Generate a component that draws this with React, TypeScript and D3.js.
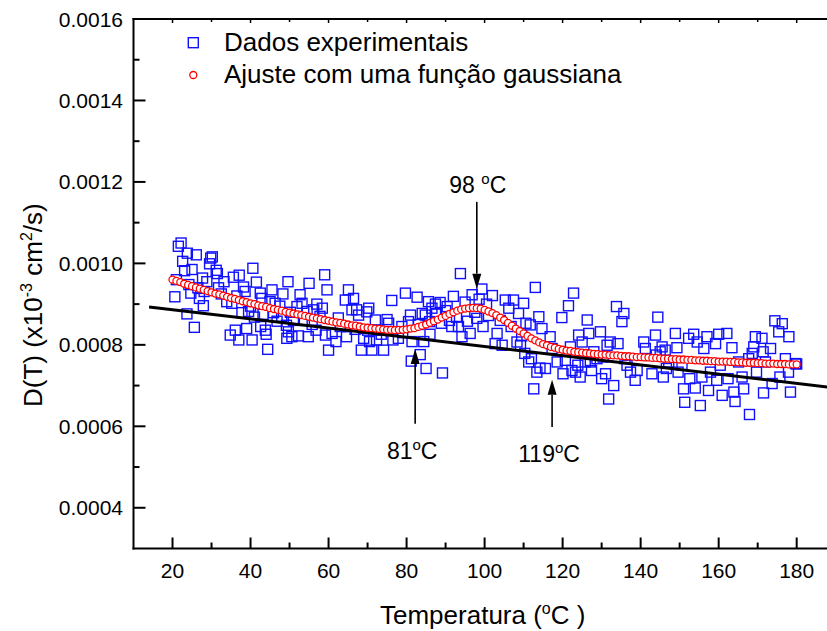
import React from "react";
import * as d3 from "d3";

// ---------- data ----------
const fitT = [
  20, 21, 22, 23, 24, 25, 26, 27, 28, 29, 30, 31, 32, 33, 34, 35, 36, 37, 38, 39,
  40, 41, 42, 43, 44, 45, 46, 47, 48, 49, 50, 51, 52, 53, 54, 55, 56, 57, 58, 59,
  60, 61, 62, 63, 64, 65, 66, 67, 68, 69, 70, 71, 72, 73, 74, 75, 76, 77, 78, 79,
  80, 81, 82, 83, 84, 85, 86, 87, 88, 89, 90, 91, 92, 93, 94, 95, 96, 97, 98, 99,
  100, 101, 102, 103, 104, 105, 106, 107, 108, 109, 110, 111, 112, 113, 114, 115, 116, 117, 118, 119,
  120, 121, 122, 123, 124, 125, 126, 127, 128, 129, 130, 131, 132, 133, 134, 135, 136, 137, 138, 139,
  140, 141, 142, 143, 144, 145, 146, 147, 148, 149, 150, 151, 152, 153, 154, 155, 156, 157, 158, 159,
  160, 161, 162, 163, 164, 165, 166, 167, 168, 169, 170, 171, 172, 173, 174, 175, 176, 177, 178, 179,
  180,
];
const fitD = [
  960e-6, 957e-6, 954e-6, 950e-6, 947e-6, 944e-6, 941e-6, 938e-6, 935e-6, 932e-6,
  929e-6, 926e-6, 924e-6, 921e-6, 918e-6, 915e-6, 913e-6, 910e-6, 907e-6, 905e-6,
  902e-6, 900e-6, 897e-6, 895e-6, 893e-6, 890e-6, 888e-6, 886e-6, 884e-6, 881e-6,
  879e-6, 877e-6, 875e-6, 873e-6, 871e-6, 869e-6, 867e-6, 865e-6, 863e-6, 861e-6,
  859e-6, 857e-6, 855e-6, 854e-6, 852e-6, 850e-6, 848e-6, 847e-6, 845e-6, 843e-6,
  842e-6, 841e-6, 840e-6, 839e-6, 838e-6, 837e-6, 837e-6, 836e-6, 837e-6, 837e-6,
  838e-6, 840e-6, 841e-6, 844e-6, 847e-6, 850e-6, 854e-6, 858e-6, 862e-6, 867e-6,
  871e-6, 876e-6, 880e-6, 884e-6, 887e-6, 889e-6, 890e-6, 891e-6, 890e-6, 889e-6,
  886e-6, 882e-6, 878e-6, 873e-6, 867e-6, 861e-6, 854e-6, 847e-6, 840e-6, 834e-6,
  828e-6, 822e-6, 816e-6, 811e-6, 806e-6, 802e-6, 799e-6, 795e-6, 793e-6, 790e-6,
  788e-6, 786e-6, 785e-6, 783e-6, 782e-6, 781e-6, 780e-6, 779e-6, 778e-6, 777e-6,
  776e-6, 776e-6, 775e-6, 774e-6, 774e-6, 773e-6, 772e-6, 772e-6, 771e-6, 770e-6,
  770e-6, 769e-6, 769e-6, 768e-6, 768e-6, 767e-6, 766e-6, 766e-6, 765e-6, 765e-6,
  764e-6, 764e-6, 763e-6, 763e-6, 762e-6, 762e-6, 761e-6, 761e-6, 760e-6, 760e-6,
  759e-6, 759e-6, 759e-6, 758e-6, 758e-6, 757e-6, 757e-6, 756e-6, 756e-6, 756e-6,
  755e-6, 755e-6, 754e-6, 754e-6, 754e-6, 753e-6, 753e-6, 753e-6, 752e-6, 752e-6,
  752e-6,
];

const scatterT = [
  20.6, 21.0, 21.5, 22.2, 22.6, 23.1, 23.7, 23.8, 24.2, 24.7, 25.0, 25.6, 26.1, 26.5, 26.9, 27.7, 27.9, 28.1, 28.8, 29.5,
  29.8, 30.2, 31.2, 31.5, 31.8, 32.5, 33.2, 33.9, 34.8, 35.2, 35.6, 36.1, 36.5, 37.0, 37.1, 37.8, 38.2, 38.6, 39.0, 39.5,
  40.0, 40.4, 40.6, 41.0, 41.5, 42.5, 42.6, 42.9, 43.2, 43.8, 44.0, 44.4, 45.0, 45.5, 45.9, 46.3, 46.8, 47.5, 48.0, 48.3,
  49.2, 49.3, 49.6, 49.7, 50.2, 50.6, 51.0, 51.9, 52.3, 52.7, 53.2, 53.8, 54.5, 54.8, 55.0, 55.8, 56.2, 56.8, 57.0, 57.8,
  58.4, 59.0, 59.2, 59.6, 60.0,
  60.9, 61.9, 63.0, 64.3, 64.6, 65.1, 66.0, 66.4, 67.2, 67.7, 68.4, 69.0, 69.8, 70.3, 70.5, 70.0, 71.1, 72.0, 72.3, 72.8,
  74.1, 75.4, 76.2, 76.5, 77.9, 78.8, 79.7, 80.5, 81.0, 81.2, 81.4, 82.7, 83.5, 84.0, 84.4, 84.8, 85.0, 85.6, 85.9, 86.5,
  87.4, 87.7, 88.6, 88.9, 89.2, 90.4, 91.0, 91.6, 92.0, 93.3, 93.8, 94.2, 95.0, 96.3, 96.8, 97.5, 98.0, 99.3, 99.6, 100.5,
  101.0, 62.5, 66.8, 73.5, 75.0, 79.0, 83.0, 86.0, 90.0, 92.8, 95.6, 98.6,
  102.0, 102.7, 103.2, 104.0, 104.5, 105.3, 106.2, 106.8, 107.4, 108.3, 108.7, 109.2, 109.5, 110.0, 110.3, 110.6, 111.3, 111.7, 112.0, 112.6,
  113.0, 113.4, 113.9, 114.2, 114.7, 115.6, 116.8, 117.3, 118.6, 119.8, 120.1, 120.7, 121.5, 122.0, 122.4, 122.8, 123.3, 123.9, 124.1, 124.5,
  125.0, 125.8, 126.3, 126.7, 127.1, 127.4, 128.0, 128.8, 129.7, 130.0, 130.4, 131.4, 131.0, 131.8, 132.2, 133.1, 133.8, 134.2, 135.2, 135.7,
  136.0, 136.5, 137.4, 138.6, 139.1, 140.8, 141.2, 142.9, 143.8, 144.4,
  144.0, 145.0, 145.5, 145.8, 146.3, 146.6, 147.2, 148.9, 149.3, 149.6, 150.6, 151.0, 151.3, 152.3, 152.6, 153.6, 154.0, 154.5, 155.3, 155.7,
  156.2, 157.0, 157.4, 157.9, 159.2, 159.5, 160.0, 160.4, 160.9, 162.1, 162.4, 163.4, 163.9, 164.2, 165.1, 166.0, 166.4, 167.7, 167.9, 168.6,
  169.0, 169.4, 169.7, 171.1, 171.4, 171.5, 172.0, 173.3, 173.7, 174.4, 175.4, 175.7, 176.3, 177.1, 177.9, 178.0, 178.4, 179.7, 180.0,
];
const scatterD = [
  918e-6, 960e-6, 1042e-6, 1050e-6, 1005e-6, 982e-6, 876e-6, 1025e-6, 948e-6, 927e-6, 985e-6, 843e-6, 1021e-6, 940e-6, 914e-6, 964e-6, 896e-6, 931e-6, 955e-6, 999e-6,
  1013e-6, 1016e-6, 983e-6, 975e-6, 940e-6, 925e-6, 955e-6, 906e-6, 824e-6, 902e-6, 966e-6, 836e-6, 920e-6, 812e-6, 971e-6, 879e-6, 942e-6, 931e-6, 840e-6, 882e-6,
  895e-6, 812e-6, 988e-6, 868e-6, 954e-6, 927e-6, 845e-6, 914e-6, 875e-6, 836e-6, 826e-6, 789e-6, 906e-6, 935e-6, 879e-6, 902e-6, 858e-6, 895e-6, 870e-6, 925e-6,
  848e-6, 816e-6, 955e-6, 832e-6, 880e-6, 820e-6, 860e-6, 894e-6, 822e-6, 923e-6, 902e-6, 860e-6, 882e-6, 820e-6, 951e-6, 850e-6, 886e-6, 836e-6, 900e-6, 870e-6,
  890e-6, 972e-6, 824e-6, 935e-6, 787e-6,
  828e-6, 808e-6, 845e-6, 910e-6, 820e-6, 935e-6, 886e-6, 914e-6, 886e-6, 873e-6, 787e-6, 816e-6, 881e-6, 890e-6, 808e-6, 836e-6, 787e-6, 861e-6, 812e-6, 836e-6,
  787e-6, 853e-6, 909e-6, 812e-6, 816e-6, 845e-6, 927e-6, 857e-6, 873e-6, 760e-6, 808e-6, 917e-6, 776e-6, 877e-6, 808e-6, 873e-6, 742e-6, 906e-6, 857e-6, 890e-6,
  900e-6, 877e-6, 904e-6, 853e-6, 731e-6, 894e-6, 860e-6, 845e-6, 919e-6, 845e-6, 975e-6, 820e-6, 905e-6, 828e-6, 923e-6, 880e-6, 865e-6, 937e-6, 845e-6, 900e-6,
  872e-6, 866e-6, 838e-6, 826e-6, 862e-6, 830e-6, 850e-6, 826e-6, 884e-6, 868e-6, 858e-6, 912e-6,
  921e-6, 803e-6, 828e-6, 860e-6, 799e-6, 910e-6, 890e-6, 845e-6, 910e-6, 807e-6, 877e-6, 799e-6, 822e-6, 902e-6, 779e-6, 853e-6, 758e-6, 849e-6, 766e-6, 692e-6,
  941e-6, 733e-6, 869e-6, 743e-6, 840e-6, 742e-6, 820e-6, 791e-6, 758e-6, 867e-6, 729e-6, 762e-6, 896e-6, 795e-6, 737e-6, 927e-6, 733e-6, 750e-6, 824e-6, 721e-6,
  807e-6, 758e-6, 861e-6, 828e-6, 758e-6, 737e-6, 783e-6, 766e-6, 832e-6, 717e-6, 770e-6, 799e-6, 729e-6, 667e-6, 807e-6, 700e-6, 894e-6, 803e-6, 857e-6, 877e-6,
  766e-6, 750e-6, 733e-6, 713e-6, 737e-6, 807e-6, 791e-6, 729e-6, 824e-6, 868e-6,
  775e-6, 783e-6, 795e-6, 721e-6, 787e-6, 742e-6, 758e-6, 828e-6, 793e-6, 733e-6, 750e-6, 692e-6, 659e-6, 816e-6, 717e-6, 826e-6, 694e-6, 807e-6, 651e-6, 721e-6,
  791e-6, 820e-6, 688e-6, 733e-6, 803e-6, 713e-6, 826e-6, 750e-6, 676e-6, 828e-6, 717e-6, 793e-6, 684e-6, 661e-6, 758e-6, 721e-6, 692e-6, 766e-6, 629e-6, 779e-6,
  795e-6, 820e-6, 733e-6, 816e-6, 783e-6, 682e-6, 758e-6, 791e-6, 705e-6, 859e-6, 832e-6, 721e-6, 852e-6, 766e-6, 733e-6, 820e-6, 684e-6, 754e-6, 753e-6,
];

const lineT = [14, 190];
const lineD = [893e-6, 694e-6];

const xMajorTicks = [20, 40, 60, 80, 100, 120, 140, 160, 180];
const xMinorTicks = [30, 50, 70, 90, 110, 130, 150, 170];
const yMajorTicks = [0.0004, 0.0006, 0.0008, 0.001, 0.0012, 0.0014, 0.0016];
const yMinorTicks = [0.0005, 0.0007, 0.0009, 0.0011, 0.0013, 0.0015];

const legendLabels = ["Dados experimentais", "Ajuste com uma função gaussiana"];

// arrows: temperature position, start and end (tip) values
const arrowT = [98, 82.2, 117.3];
const arrowFrom = [1151e-6, 606e-6, 598e-6];
const arrowTo = [938e-6, 790e-6, 714e-6];
const arrowLabels = ["98", "81", "119"];

const FONT = "'Liberation Sans', Arial, Helvetica, sans-serif";

export default function App() {
  const W = 827;
  const H = 631;
  const x = d3.scaleLinear().domain([10, 190]).range([133.5, 835.7]);
  const y = d3.scaleLinear().domain([0.0003, 0.0016]).range([548.5, 19]);
  const left = x(10);
  const right = x(190);
  const top = y(0.0016);
  const bottom = y(0.0003);
  const fmt = d3.format(".4f");

  const linePath = d3
    .line<number>()
    .x((_, i) => x(lineT[i]))
    .y((d) => y(d))(lineD) as string;

  const sq = 10;
  const cr = 3.5;

  return (
    <svg
      width={W}
      height={H}
      style={{ position: "absolute", left: 0, top: 0, display: "block", background: "#fff" }}
      fontFamily={FONT}
    >
      <defs>
        <clipPath id="plotClip">
          <rect x={left} y={top} width={right - left} height={bottom - top} />
        </clipPath>
      </defs>
      <rect x={0} y={0} width={W} height={H} fill="#fff" />

      <g clipPath="url(#plotClip)">
        {scatterT.map((t, i) => (
          <rect
            key={"s" + i}
            x={x(t) - sq / 2}
            y={y(scatterD[i]) - sq / 2}
            width={sq}
            height={sq}
            fill="none"
            stroke="#1010ff"
            strokeWidth={1.4}
          />
        ))}
        <path d={linePath} stroke="#000" strokeWidth={3} fill="none" />
        {fitT.map((t, i) => (
          <circle
            key={"c" + i}
            cx={x(t)}
            cy={y(fitD[i])}
            r={cr}
            fill="#fff"
            stroke="#ff0000"
            strokeWidth={1.3}
          />
        ))}
      </g>

      {/* axes frame */}
      <line x1={left} y1={top - 1} x2={left} y2={bottom + 1} stroke="#000" strokeWidth={2} />
      <line x1={left - 1} y1={bottom} x2={W} y2={bottom} stroke="#000" strokeWidth={2} />
      <line x1={left - 1} y1={top} x2={W} y2={top} stroke="#000" strokeWidth={2} />

      {/* x ticks */}
      {xMajorTicks.map((t) => (
        <g key={"xm" + t}>
          <line x1={x(t)} x2={x(t)} y1={bottom} y2={bottom - 11} stroke="#000" strokeWidth={2} />
          <line x1={x(t)} x2={x(t)} y1={top} y2={top + 4} stroke="#000" strokeWidth={1.5} />
          <text x={x(t)} y={578} fontSize={21} textAnchor="middle" fill="#000">
            {t}
          </text>
        </g>
      ))}
      {xMinorTicks.map((t) => (
        <g key={"xn" + t}>
          <line x1={x(t)} x2={x(t)} y1={bottom} y2={bottom - 6} stroke="#000" strokeWidth={2} />
          <line x1={x(t)} x2={x(t)} y1={top} y2={top + 3} stroke="#000" strokeWidth={1.5} />
        </g>
      ))}

      {/* y ticks */}
      {yMajorTicks.map((v) => (
        <g key={"ym" + v}>
          <line x1={left} x2={left + 12} y1={y(v)} y2={y(v)} stroke="#000" strokeWidth={2} />
          <text x={123} y={y(v)} dy="0.36em" fontSize={21} textAnchor="end" fill="#000">
            {fmt(v)}
          </text>
        </g>
      ))}
      {yMinorTicks.map((v) => (
        <line key={"yn" + v} x1={left} x2={left + 6} y1={y(v)} y2={y(v)} stroke="#000" strokeWidth={2} />
      ))}

      {/* axis titles */}
      <text x={380} y={624} fontSize={26} fill="#000">
        Temperatura (
        <tspan dy={-10} fontSize={16}>o</tspan>
        <tspan dy={10}>C )</tspan>
      </text>
      <text transform="translate(42,407) rotate(-90)" fontSize={26} fill="#000">
        D(T) (x10
        <tspan dy={-10} fontSize={16}>-3</tspan>
        <tspan dy={10}> cm</tspan>
        <tspan dy={-10} fontSize={16}>2</tspan>
        <tspan dy={10}>/s)</tspan>
      </text>

      {/* legend */}
      <rect x={193.3 - sq / 2} y={42.7 - sq / 2} width={sq} height={sq} fill="none" stroke="#1010ff" strokeWidth={1.4} />
      <text x={224} y={51} fontSize={26} fill="#000">{legendLabels[0]}</text>
      <circle cx={193.3} cy={75} r={cr} fill="#fff" stroke="#ff0000" strokeWidth={1.3} />
      <text x={224} y={83} fontSize={26} fill="#000">{legendLabels[1]}</text>

      {/* arrows and annotations */}
      {arrowT.map((t, i) => {
        const ax = x(t);
        const y0 = y(arrowFrom[i]);
        const y1 = y(arrowTo[i]);
        const dir = y1 > y0 ? 1 : -1;
        const headLen = 15;
        const headW = 4.5;
        const base = y1 - dir * headLen;
        const isTop = dir > 0;
        return (
          <g key={"a" + i}>
            <line x1={ax} x2={ax} y1={y0} y2={base} stroke="#000" strokeWidth={1.6} />
            <path
              d={`M${ax},${y1} L${ax - headW},${base} L${ax + headW},${base} Z`}
              fill="#000"
            />
            <text
              x={isTop ? ax + 1 : ax - 3}
              y={isTop ? y0 - 9 : y0 + 35}
              fontSize={23}
              textAnchor="middle"
              fill="#000"
            >
              {arrowLabels[i]}
              {isTop ? " " : ""}
              <tspan dy={-9} fontSize={15}>o</tspan>
              <tspan dy={9}>C</tspan>
            </text>
          </g>
        );
      })}
    </svg>
  );
}
